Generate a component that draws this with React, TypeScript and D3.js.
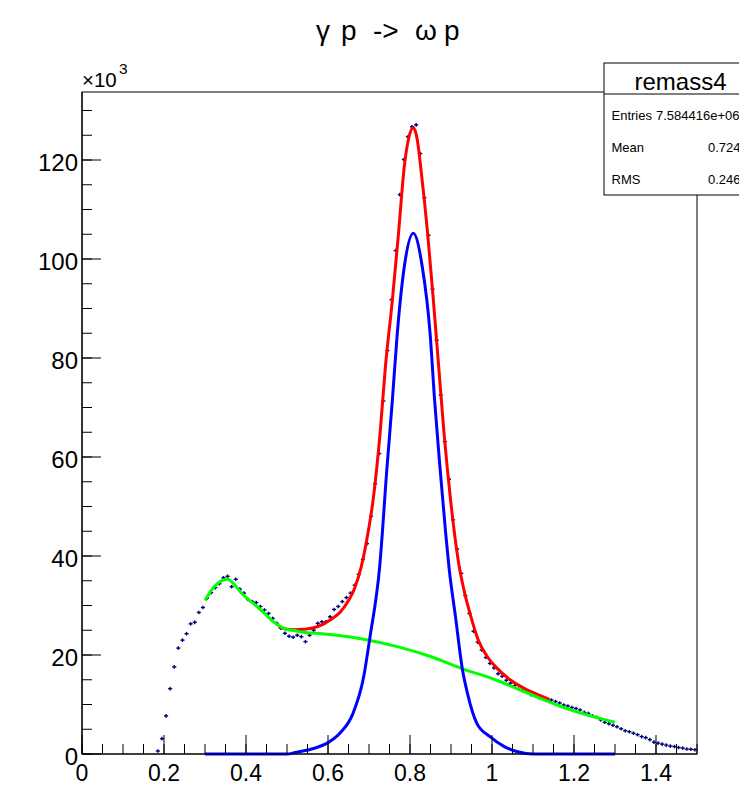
import React from "react";
import * as d3 from "d3";

// ---- Data (values in thousands of entries) ----
const histXMin = 0.18;
const histBinWidth = 0.01;
const histValues = [
  0.6, 3.1, 7.7, 13.2, 17.6, 21.4, 23.0, 24.3, 26.3, 26.6,
  28.6, 29.6, 31.5, 32.6, 33.6, 34.4, 35.6, 35.9, 33.8, 35.3,
  33.3, 32.5, 31.2, 30.8, 30.6, 29.8, 29.1, 28.4, 27.4, 26.4,
  25.4, 24.4, 23.8, 23.6, 24.0, 23.7, 22.7, 24.0, 25.0, 26.4,
  26.7, 26.7, 27.7, 29.2, 29.8, 30.8, 31.6, 32.5, 34.1, 36.3,
  39.3, 42.5, 48.0, 54.6, 60.7, 71.3, 81.5, 91.8, 101.7, 113.0,
  120.1, 124.7, 126.7, 127.1, 121.3, 112.4, 104.8, 93.9, 83.6, 72.5,
  63.1, 55.5, 47.3, 41.4, 36.5, 32.0, 28.4, 24.8, 22.6, 21.0,
  19.5, 18.3, 17.4, 16.2, 15.7, 14.9, 14.3, 13.8, 13.1, 12.8,
  12.5, 12.0, 11.8, 11.4, 11.3, 11.0, 10.9, 10.6, 10.3, 9.9,
  9.7, 9.4, 9.2, 8.9, 8.4, 8.2, 7.7, 7.4, 6.9, 6.4,
  6.1, 5.8, 5.5, 5.1, 4.7, 4.5, 4.2, 3.9, 3.5, 3.3,
  2.9, 2.4, 2.2, 2.0, 1.8, 1.6, 1.5, 1.3, 1.2, 1.0,
  0.95, 0.85,
];

// total fit (red)
const totalX = [0.48, 0.50, 0.52, 0.54, 0.565, 0.59, 0.606, 0.63, 0.65, 0.665, 0.681, 0.695, 0.71, 0.727, 0.74, 0.757, 0.772, 0.786, 0.797, 0.808, 0.818, 0.826, 0.843, 0.857, 0.87, 0.883, 0.899, 0.919, 0.932, 0.948, 0.967, 0.99, 1.009, 1.046, 1.087, 1.135, 1.14];
const totalY = [25.8, 25.2, 25.1, 25.2, 25.5, 26.3, 27.1, 28.7, 31.0, 33.5, 37.8, 43.5, 51.3, 64.8, 78.2, 91.7, 105.2, 118.6, 124.5, 126.5, 124.0, 118.6, 105.2, 91.7, 78.2, 64.8, 51.3, 38.4, 33.0, 27.9, 22.9, 19.5, 17.6, 14.9, 12.9, 11.2, 11.0];

// background fit (green)
const bgX = [0.30, 0.315, 0.33, 0.345, 0.355, 0.37, 0.386, 0.405, 0.427, 0.447, 0.467, 0.492, 0.52, 0.549, 0.585, 0.622, 0.687, 0.769, 0.85, 0.932, 1.005, 1.087, 1.168, 1.249, 1.30];
const bgY = [31.0, 33.0, 34.4, 35.2, 35.3, 34.4, 32.8, 31.3, 29.8, 28.3, 26.7, 25.4, 24.9, 24.5, 24.3, 24.0, 23.2, 21.7, 19.7, 17.1, 15.1, 12.3, 9.6, 7.5, 6.4];

// signal fit (blue)
const sigX = [0.30, 0.50, 0.52, 0.56, 0.60, 0.63, 0.66, 0.687, 0.702, 0.726, 0.744, 0.757, 0.769, 0.786, 0.808, 0.830, 0.849, 0.860, 0.873, 0.887, 0.895, 0.911, 0.928, 0.94, 0.963, 0.995, 1.03, 1.065, 1.10, 1.30];
const sigY = [0, 0, 0.3, 1.0, 2.3, 4.3, 8.0, 15.6, 23.4, 37.8, 58.0, 71.5, 85.0, 98.4, 105.2, 98.4, 85.0, 71.5, 58.0, 44.6, 37.8, 27.7, 17.0, 12.3, 6.2, 3.5, 1.5, 0.4, 0, 0];

const xMajorTicks = [0, 0.2, 0.4, 0.6, 0.8, 1.0, 1.2, 1.4];
const xTickLabels = ["0", "0.2", "0.4", "0.6", "0.8", "1", "1.2", "1.4"];
const yMajorTicks = [0, 20, 40, 60, 80, 100, 120];
const yTickLabels = ["0", "20", "40", "60", "80", "100", "120"];

const statsTitle = "remass4";
const statsNames = ["Entries", "Mean", "RMS"];
const statsValues = ["7.584416e+06", "0.7245", "0.2463"];

const FONT = "'Liberation Sans', Arial, Helvetica, sans-serif";

export default function App() {
  const W = 739, H = 791;
  const L = 82, R = 697, T = 92, B = 754;
  const x = d3.scaleLinear().domain([0, 1.5]).range([L, R]);
  const y = d3.scaleLinear().domain([0, 133.74]).range([B, T]);

  const xMinor = d3.range(0, 1.5001, 0.05);
  const yMinor = d3.range(0, 131, 5);

  const line = d3
    .line<[number, number]>()
    .x((d) => x(d[0]))
    .y((d) => y(d[1]))
    .curve(d3.curveMonotoneX);

  const zip = (a: number[], b: number[]) => a.map((v, i) => [v, b[i]] as [number, number]);

  const markColor = "#00007a";

  return (
    <svg
      width={W}
      height={H}
      style={{ position: "absolute", left: 0, top: 0, background: "#fff" }}
      fontFamily={FONT}
    >
      <rect x={0} y={0} width={W} height={H} fill="#fff" />

      {/* title */}
      <text y={40} fontSize={28} fill="#000">
        <tspan x={316}>γ</tspan>
        <tspan x={341}>p</tspan>
        <tspan x={373}>-&gt;</tspan>
        <tspan x={415}>ω</tspan>
        <tspan x={444}>p</tspan>
      </text>

      {/* frame */}
      <rect x={L} y={T} width={R - L} height={B - T} fill="none" stroke="#000" strokeWidth={1} />

      {/* histogram points */}
      <g stroke={markColor} strokeWidth={1.4}>
        {histValues.map((v, i) => {
          const lo = histXMin + i * histBinWidth;
          const hi = lo + histBinWidth;
          const c = (lo + hi) / 2;
          const yy = y(v);
          return (
            <g key={i}>
              <line x1={x(lo)} x2={x(hi)} y1={yy} y2={yy} />
              <line x1={x(c)} x2={x(c)} y1={yy - 1.8} y2={yy + 1.8} />
            </g>
          );
        })}
      </g>

      {/* fits */}
      <path d={line(zip(totalX, totalY)) || ""} fill="none" stroke="#ff0000" strokeWidth={3} />
      <path d={line(zip(bgX, bgY)) || ""} fill="none" stroke="#00ff00" strokeWidth={3} />
      <path d={line(zip(sigX, sigY)) || ""} fill="none" stroke="#0000ff" strokeWidth={3} />

      {/* ticks */}
      <g stroke="#000" strokeWidth={1}>
        {xMinor.map((t, i) => (
          <line key={"xm" + i} x1={x(t)} x2={x(t)} y1={B} y2={B - 10} />
        ))}
        {xMajorTicks.map((t, i) => (
          <line key={"xM" + i} x1={x(t)} x2={x(t)} y1={B} y2={B - 19} />
        ))}
        {yMinor.map((t, i) => (
          <line key={"ym" + i} x1={L} x2={L + 10} y1={y(t)} y2={y(t)} />
        ))}
        {yMajorTicks.map((t, i) => (
          <line key={"yM" + i} x1={L} x2={L + 19} y1={y(t)} y2={y(t)} />
        ))}
      </g>
      <line x1={L} x2={R} y1={B} y2={B} stroke="#000" strokeWidth={1.2} />
      <line x1={L} x2={L} y1={T} y2={B} stroke="#000" strokeWidth={1.2} />

      {/* tick labels */}
      <g fontSize={23} fill="#000" textAnchor="middle">
        {xMajorTicks.map((t, i) => (
          <text key={"xl" + i} x={x(t)} y={781}>
            {xTickLabels[i]}
          </text>
        ))}
      </g>
      <g fontSize={24} fill="#000" textAnchor="end">
        {yMajorTicks.map((t, i) => (
          <text key={"yl" + i} x={78} y={y(t) + 11}>
            {yTickLabels[i]}
          </text>
        ))}
      </g>
      <text x={82} y={87} fontSize={20.5} fill="#000">
        ×10
      </text>
      <text x={119} y={73.5} fontSize={15.5} fill="#000">
        3
      </text>

      {/* stats box */}
      <rect x={604} y={63} width={160} height={132} fill="#fff" stroke="#000" strokeWidth={1} />
      <line x1={604} x2={W} y1={94} y2={94} stroke="#000" strokeWidth={1} />
      <text x={680.5} y={90} fontSize={24} textAnchor="middle" fill="#000">
        {statsTitle}
      </text>
      <g fontSize={13} fill="#000">
        {statsNames.map((n, i) => (
          <text key={"sn" + i} x={611.5} y={120 + i * 32}>
            {n}
          </text>
        ))}
        {statsValues.map((v, i) => (
          <text key={"sv" + i} x={i === 0 ? 656 : 708} y={120 + i * 32}>
            {v}
          </text>
        ))}
      </g>
    </svg>
  );
}
